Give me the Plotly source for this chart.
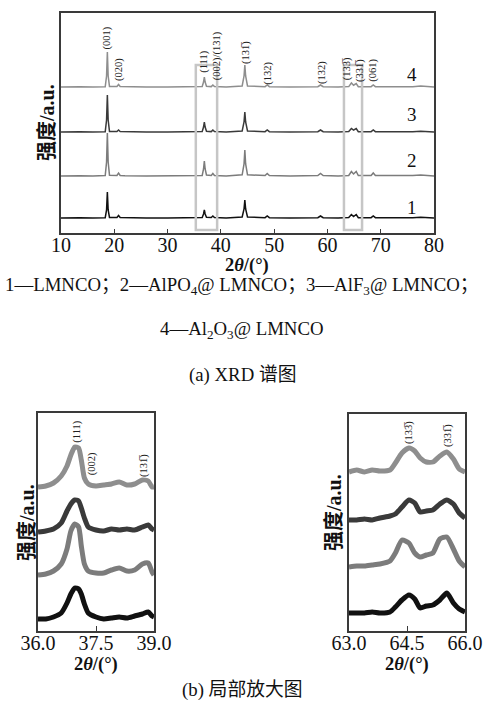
import plotly.graph_objects as go

# ---------------- data: full XRD patterns (relative intensity, a.u.) ----------------
two_theta = [10, 12.5, 13, 13.5, 16, 18.3, 18.55, 18.7, 18.85, 19.1, 20.5, 20.8, 21.1, 22,
             26, 30, 34, 36.5, 36.75, 36.9, 37.05, 37.3, 38.2, 38.5, 38.8, 41,
             44.0, 44.35, 44.5, 44.65, 45.0, 48.3, 48.7, 49.1, 53, 58.2, 58.7, 59.2, 62,
             64.0, 64.5, 64.9, 65.4, 65.8, 68.2, 68.6, 69.0, 73, 76, 77.5, 79, 80]

xrd_1 = [0, 0.3, 0.8, 0.3, 0, 0.3, 8, 26, 8, 0.5, 0.5, 2.5, 0.5, 0.3,
         0, 0, 0, 0.5, 4, 8, 4, 0.8, 0.5, 2, 0.5, 0,
         1, 9, 18, 9, 1, 0.3, 2, 0.3, 0, 0.3, 2, 0.3, 0,
         0.4, 3.5, 1.5, 3.5, 0.3, 0.3, 2, 0.3, 0, 0.3, 0.8, 0.3, 0]
xrd_2 = [0, 0.3, 0.6, 0.3, 0, 0.4, 14, 43, 14, 0.8, 0.6, 3, 0.6, 0.3,
         0, 0, 0, 0.6, 7, 15, 7, 1, 0.5, 2.5, 0.5, 0,
         1.2, 12, 26, 12, 1.2, 0.4, 2.5, 0.4, 0, 0.4, 2.5, 0.4, 0,
         0.5, 4.5, 2, 4.5, 0.4, 0.4, 3, 0.4, 0, 0.4, 1, 0.4, 0]
xrd_3 = [0, 0.3, 0.5, 0.3, 0, 0.3, 12, 37, 12, 0.6, 0.5, 2, 0.5, 0.3,
         0, 0, 0, 0.5, 5, 10, 5, 0.8, 0.4, 2, 0.4, 0,
         1, 10, 20, 10, 1, 0.3, 2, 0.3, 0, 0.3, 2, 0.3, 0,
         0.4, 3.5, 1.8, 3.5, 0.3, 0.3, 2, 0.3, 0, 0.3, 0.8, 0.3, 0]
xrd_4 = [0, 0.3, 0.5, 0.3, 0, 0.3, 11, 35, 11, 0.6, 0.5, 2.5, 0.5, 0.3,
         0, 0, 0, 0.5, 5, 10, 5, 0.8, 0.4, 2, 0.4, 0,
         1, 11, 22, 11, 1, 0.3, 2, 0.3, 0, 0.3, 2, 0.3, 0,
         0.4, 4, 1.8, 3.5, 0.3, 0.3, 2, 0.3, 0, 0.3, 1, 0.3, 0]

sample_ids = ["1", "2", "3", "4"]
main_ticks = [10, 20, 30, 40, 50, 60, 70, 80]

peak_labels = ["(001)", "(020)", "(111)", "(002)/(131)", "(131\u0305)", "(132)", "(132)",
               "(133\u0305)", "(331\u0305)", "(061)"]
peak_label_x = [18.8, 20.9, 36.8, 39.3, 44.7, 48.8, 59.0, 63.7, 66.1, 68.5]
peak_label_y = [195.5, 163, 171, 177, 181, 160, 160, 164, 163, 163]

# ---------------- data: zoom 36-39 deg ----------------
zA_x = [36.0, 36.2, 36.4, 36.6, 36.75, 36.85, 36.95, 37.05, 37.12, 37.2, 37.3, 37.5,
        37.7, 37.9, 38.1, 38.3, 38.5, 38.7, 38.85, 38.95, 39.0]
zA_4 = [144, 145, 148, 155, 165, 176, 184, 183, 171, 153, 147, 145,
        146, 147, 149, 146, 147, 151, 150, 144, 144]
zA_3 = [99, 100, 102, 108, 120, 127, 131, 130, 123, 113, 104, 101,
        100, 102, 101, 102, 101, 104, 106, 102, 101]
zA_2 = [56, 57, 60, 67, 82, 100, 107, 104, 85, 67, 60, 58,
        58, 61, 63, 60, 61, 67, 68, 59, 56]
zA_1 = [12, 12, 14, 18, 28, 37, 43, 42, 37, 27, 18, 14,
        12, 13, 14, 13, 15, 17, 19, 15, 14]

# ---------------- data: zoom 63-66 deg ----------------
zB_x = [63.0, 63.2, 63.4, 63.6, 63.8, 64.06, 64.2, 64.37, 64.55, 64.7, 64.84, 65.0,
        65.17, 65.35, 65.53, 65.7, 65.85, 66.0]
zB_4 = [159, 161, 159, 161, 160, 161, 168, 178, 183, 180, 173, 169,
        169, 175, 179, 172, 162, 159]
zB_3 = [111, 111, 112, 111, 113, 115, 117, 124, 131, 128, 119, 120,
        121, 127, 131, 127, 118, 113]
zB_2 = [64, 65, 65, 66, 67, 70, 78, 91, 88, 78, 74, 76,
        78, 92, 94, 82, 70, 64]
zB_1 = [18, 18, 18, 19, 18, 19, 24, 31, 36, 32, 23, 25,
        26, 31, 38, 28, 22, 19]

# ---------------- style / layout helpers ----------------
W, H = 485, 709
serif = "Liberation Serif"
cjk = "Liberation Serif, Noto Sans CJK SC"
colors = {"1": "#111111", "2": "#7c7c7c", "3": "#3a3a3a", "4": "#8e8e8e"}
offsets_main = {"1": 15, "2": 57, "3": 101, "4": 146}
frame = "#3a3a3a"


def px_x(p):
    return p / W


def px_y(p):
    return 1 - p / H


fig = go.Figure()

main_series = {"1": xrd_1, "2": xrd_2, "3": xrd_3, "4": xrd_4}
for sid in sample_ids:
    fig.add_trace(go.Scatter(
        x=two_theta, y=[v + offsets_main[sid] for v in main_series[sid]],
        mode="lines", line=dict(color=colors[sid], width=1.5),
        xaxis="x", yaxis="y", showlegend=False, hoverinfo="skip"))

for sid, ys in {"4": zA_4, "3": zA_3, "2": zA_2, "1": zA_1}.items():
    fig.add_trace(go.Scatter(x=zA_x, y=ys, mode="lines",
                             line=dict(color=colors[sid], width=5, shape="spline", smoothing=0.6),
                             xaxis="x2", yaxis="y2", showlegend=False, hoverinfo="skip"))
for sid, ys in {"4": zB_4, "3": zB_3, "2": zB_2, "1": zB_1}.items():
    fig.add_trace(go.Scatter(x=zB_x, y=ys, mode="lines",
                             line=dict(color=colors[sid], width=5, shape="spline", smoothing=0.6),
                             xaxis="x3", yaxis="y3", showlegend=False, hoverinfo="skip"))

axis_common = dict(showline=True, mirror=True, linecolor=frame, linewidth=1.5,
                   showgrid=False, zeroline=False, automargin=False)
tickfont = dict(family=serif, size=20, color="#111")
xtick_common = dict(ticks="inside", tickcolor=frame, tickfont=tickfont,
                    ticklabeloverflow="allow", ticklabelstandoff=-7)

fig.update_layout(
    width=W, height=H, margin=dict(l=0, r=0, t=0, b=0, pad=0), autosize=False,
    paper_bgcolor="white", plot_bgcolor="white",
    xaxis=dict(domain=[px_x(61), px_x(434)], range=[10, 80], tickvals=main_ticks,
               ticklen=4, anchor="y", **xtick_common, **axis_common),
    yaxis=dict(domain=[px_y(233), px_y(13)], range=[0, 220], showticklabels=False,
               ticks="", anchor="x", **axis_common),
    xaxis2=dict(domain=[px_x(38), px_x(154)], range=[36, 39], tickvals=[36, 37.5, 39],
                ticktext=["36.0", "37.5", "39.0"], ticklen=5, anchor="y2",
                **xtick_common, **axis_common),
    yaxis2=dict(domain=[px_y(631), px_y(413)], range=[0, 218], showticklabels=False,
                ticks="", anchor="x2", **axis_common),
    xaxis3=dict(domain=[px_x(349), px_x(465)], range=[63, 66], tickvals=[63, 64.5, 66],
                ticktext=["63.0", "64.5", "66.0"], ticklen=5, anchor="y3",
                **xtick_common, **axis_common),
    yaxis3=dict(domain=[px_y(631), px_y(414)], range=[0, 217], showticklabels=False,
                ticks="", anchor="x3", **axis_common),
)

# highlight boxes
for x0, x1 in ((35.3, 39.3), (63.1, 66.5)):
    fig.add_shape(type="rect", xref="x", yref="y", x0=x0, x1=x1, y0=3, y1=168,
                  line=dict(color="#c6c6c6", width=2.5), fillcolor="rgba(0,0,0,0)")

ann = []
lab_font = dict(family=serif, size=10.5, color="#222")
for t, x, y in zip(peak_labels, peak_label_x, peak_label_y):
    ann.append(dict(x=x, y=y, xref="x", yref="y", text=t, textangle=-90, showarrow=False,
                    font=lab_font, xanchor="center", yanchor="middle"))
num_y = {"4": 158, "3": 118, "2": 72, "1": 25}
for sid in sample_ids:
    ann.append(dict(x=75.9, y=num_y[sid], xref="x", yref="y", text=sid, showarrow=False,
                    font=dict(family=serif, size=19, color="#111")))

for t, x, y, xr, yr in (("(111)", 37.0, 199, "x2", "y2"), ("(002)", 37.4, 167, "x2", "y2"),
                        ("(131\u0305)", 38.74, 166, "x2", "y2"),
                        ("(133\u0305)", 64.55, 199, "x3", "y3"), ("(331\u0305)", 65.56, 196, "x3", "y3")):
    ann.append(dict(x=x, y=y, xref=xr, yref=yr, text=t, textangle=-90, showarrow=False,
                    font=lab_font, xanchor="center", yanchor="middle"))

# axis titles (drawn as text at the reference positions)
xtitle = "<b>2<i>θ</i>/(°)</b>"
for x, y in ((247, 265), (96, 664), (407, 664)):
    ann.append(dict(x=px_x(x), y=px_y(y), xref="paper", yref="paper", text=xtitle,
                    showarrow=False, font=dict(family=serif, size=18.5, color="#111"),
                    xanchor="center", yanchor="middle"))

ytitle = "<b>强度/a.u.</b>"
for x, y in ((47, 123), (27, 523), (334, 513)):
    ann.append(dict(x=px_x(x), y=px_y(y), xref="paper", yref="paper", text=ytitle,
                    textangle=-90, showarrow=False,
                    font=dict(family=cjk, size=20, color="#111"),
                    xanchor="center", yanchor="middle"))

cap_font = dict(family=cjk, size=18.8, color="#111")
captions = [
    ("1—LMNCO；2—AlPO<sub>4</sub>@ LMNCO；3—AlF<sub>3</sub>@ LMNCO；", 286),
    ("4—Al<sub>2</sub>O<sub>3</sub>@ LMNCO", 330),
    ("(a) XRD 谱图", 375),
    ("(b) 局部放大图", 690),
]
for t, y in captions:
    ann.append(dict(x=px_x(242), y=px_y(y), xref="paper", yref="paper", text=t, showarrow=False,
                    font=cap_font, xanchor="center", yanchor="middle"))

fig.update_layout(annotations=ann)
fig.write_html("out.html", config={"displayModeBar": False},
               post_script="document.body.style.margin='0';document.body.style.overflow='hidden';")
